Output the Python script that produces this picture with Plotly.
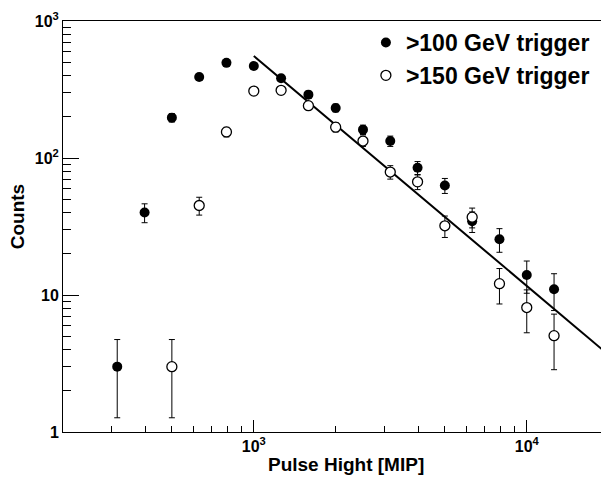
import plotly.graph_objects as go

# pulse height bins [MIP]
pulse_hight = [316, 398, 501, 631, 794, 1000, 1259, 1585, 1995, 2512,
               3162, 3981, 5012, 6310, 7943, 10000, 12589]

# >100 GeV trigger
counts_100 = [3, 40, 197, 390, 495, 470, 382, 290, 232, 161,
              133, 85, 63, 34.5, 25.5, 14, 11]
err_100 = [1.73, 6.3, 14, 19.7, 22, 21.7, 19.5, 17, 15.2, 12.7,
           11.5, 9.2, 7.9, 5.9, 5.0, 3.7, 3.3]

# >150 GeV trigger (starts at 3rd bin)
pulse_hight_150 = pulse_hight[2:]
counts_150 = [3, 45, 155, 308, 312, 241, 168, 133, 79, 67,
              32, 37, 12.1, 8.1, 5.05]
err_150 = [1.73, 6.7, 12.4, 17.5, 17.7, 15.5, 13, 11.5, 8.9, 8.2,
           5.7, 6.1, 3.5, 2.8, 2.2]

# power-law fit line
fit_x = [1000, 20000]
fit_y = [556, 3.64]

FONT = "Liberation Sans, Arial, Helvetica, sans-serif"

fig = go.Figure()

fig.add_trace(go.Scatter(
    x=fit_x, y=fit_y, mode='lines', showlegend=False,
    line=dict(color='black', width=2),
))

fig.add_trace(go.Scatter(
    x=pulse_hight, y=counts_100, mode='markers', name='>100 GeV trigger',
    marker=dict(symbol='circle', size=10, color='black'),
    error_y=dict(type='data', array=err_100, color='black', thickness=1, width=3),
))

fig.add_trace(go.Scatter(
    x=pulse_hight_150, y=counts_150, mode='markers', name='>150 GeV trigger',
    marker=dict(symbol='circle', size=10, color='white',
                line=dict(color='black', width=1.3)),
    error_y=dict(type='data', array=err_150, color='black', thickness=1, width=3),
))

x_minor = [300, 400, 500, 600, 700, 800, 900,
           2000, 3000, 4000, 5000, 6000, 7000, 8000, 9000]
y_minor = [2, 3, 4, 5, 6, 7, 8, 9, 20, 30, 40, 50, 60, 70, 80, 90,
           200, 300, 400, 500, 600, 700, 800, 900]

fig.update_layout(
    width=601, height=481,
    margin=dict(l=63, r=0, t=21, b=49),
    paper_bgcolor='white', plot_bgcolor='white',
    font=dict(family=FONT, color='black', size=16, weight='bold'),
    xaxis=dict(
        type='log', range=[2.301, 4.272], automargin=False,
        showgrid=False, zeroline=False,
        showline=True, linecolor='black', linewidth=1, mirror=True,
        ticks='inside', ticklen=12, tickwidth=1, tickcolor='black',
        tickmode='array', tickvals=[1000, 10000],
        ticktext=['10<sup>3</sup>', '10<sup>4</sup>'],
        tickfont=dict(size=16),
        minor=dict(ticks='inside', ticklen=6, tickwidth=1, tickcolor='black',
                   tickmode='array', tickvals=x_minor, showgrid=False),
    ),
    yaxis=dict(
        type='log', range=[0, 3], automargin=False,
        showgrid=False, zeroline=False,
        showline=True, linecolor='black', linewidth=1,
        ticks='inside', ticklen=16, tickwidth=1, tickcolor='black',
        tickmode='array', tickvals=[1, 10, 100, 1000],
        ticktext=['1', '10', '10<sup>2</sup>', '10<sup>3</sup>'],
        tickfont=dict(size=16),
        minor=dict(ticks='inside', ticklen=8, tickwidth=1, tickcolor='black',
                   tickmode='array', tickvals=y_minor, showgrid=False),
    ),
    legend=dict(
        x=0.563, y=1.0, xanchor='left', yanchor='top',
        bgcolor='rgba(0,0,0,0)', borderwidth=0,
        font=dict(size=23, family=FONT, weight='bold'),
        tracegroupgap=0,
    ),
    annotations=[
        dict(text='Pulse Hight [MIP]', xref='paper', yref='paper',
             x=(346 - 63) / 538, y=-(464 - 431.7) / 411, showarrow=False,
             xanchor='center', yanchor='middle', font=dict(size=19)),
        dict(text='Counts', xref='paper', yref='paper', textangle=-90,
             x=-(63 - 17.5) / 538, y=(431.7 - 216.5) / 411, showarrow=False,
             xanchor='center', yanchor='middle', font=dict(size=19)),
    ],
)

fig.write_html("out.html", config={'displayModeBar': False},
               post_script="document.body.style.margin='0';")
